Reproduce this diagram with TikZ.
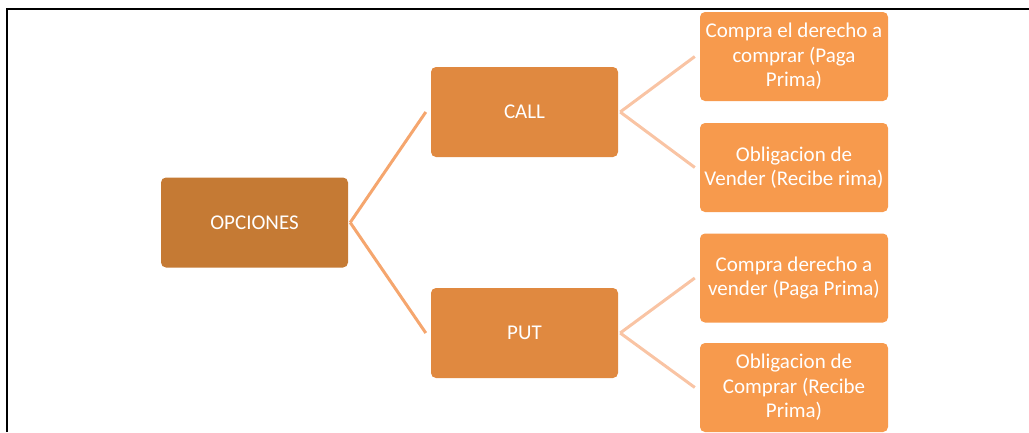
\documentclass[tikz,border=0pt]{standalone}
\usepackage{fontspec}
\setmainfont{Carlito}
\definecolor{rootfill}{RGB}{197,122,52}
\definecolor{midfill}{RGB}{224,137,64}
\definecolor{leaffill}{RGB}{247,154,77}
\definecolor{trunkcol}{RGB}{245,166,110}
\definecolor{twigcol}{RGB}{249,196,164}

\begin{document}
\begin{tikzpicture}
[x=1pt,y=-1pt,
  boxDecorate/.style={shape=rectangle,rounded corners=5pt,inner sep=0pt,
    minimum width=187pt,minimum height=90pt,align=center,text=white,
    font=\fontsize{21}{24.5}\selectfont},
  trunkDecorate/.style={-,line width=3pt,trunkcol},
  twigDecorate/.style={-,line width=3pt,twigcol}]
\useasboundingbox (0,0) rectangle (1029,432);
%% frame
\draw[line width=2.2pt] (7,432) -- (7,9) -- (1029,9);
%% nodes or vertices
\node (opciones) at (254.5,222.5) [boxDecorate,fill=rootfill] {OPCIONES};
\foreach \nodename/\y/\txt in {
  call/112/CALL, put/333/PUT}
{
  \node (\nodename) at (524.5,\y) [boxDecorate,fill=midfill] {\txt};
}
\foreach \nodename/\y/\txt in {
  ca/56.5/{Compra el derecho a\\comprar (Paga\\Prima)},
  cb/167.5/{Obligacion de\\Vender (Recibe rima)},
  pa/278/{Compra derecho a\\vender (Paga Prima)},
  pb/387.5/{Obligacion de\\Comprar (Recibe\\Prima)}}
{
  \node (\nodename) at (794,\y) [boxDecorate,fill=leaffill,minimum width=188pt,minimum height=89pt] {\txt};
}
%% edges or lines
\foreach \endnode in {call, put}
{
  \draw[trunkDecorate] ([xshift=2pt]opciones.east) -- ([xshift=-5pt]\endnode.west);
}
\foreach \startnode/\endnode in {
  call/ca, call/cb, put/pa, put/pb}
{
  \draw[twigDecorate] ([xshift=2pt]\startnode.east) -- ([xshift=-5pt]\endnode.west);
}
\end{tikzpicture}
\end{document}
